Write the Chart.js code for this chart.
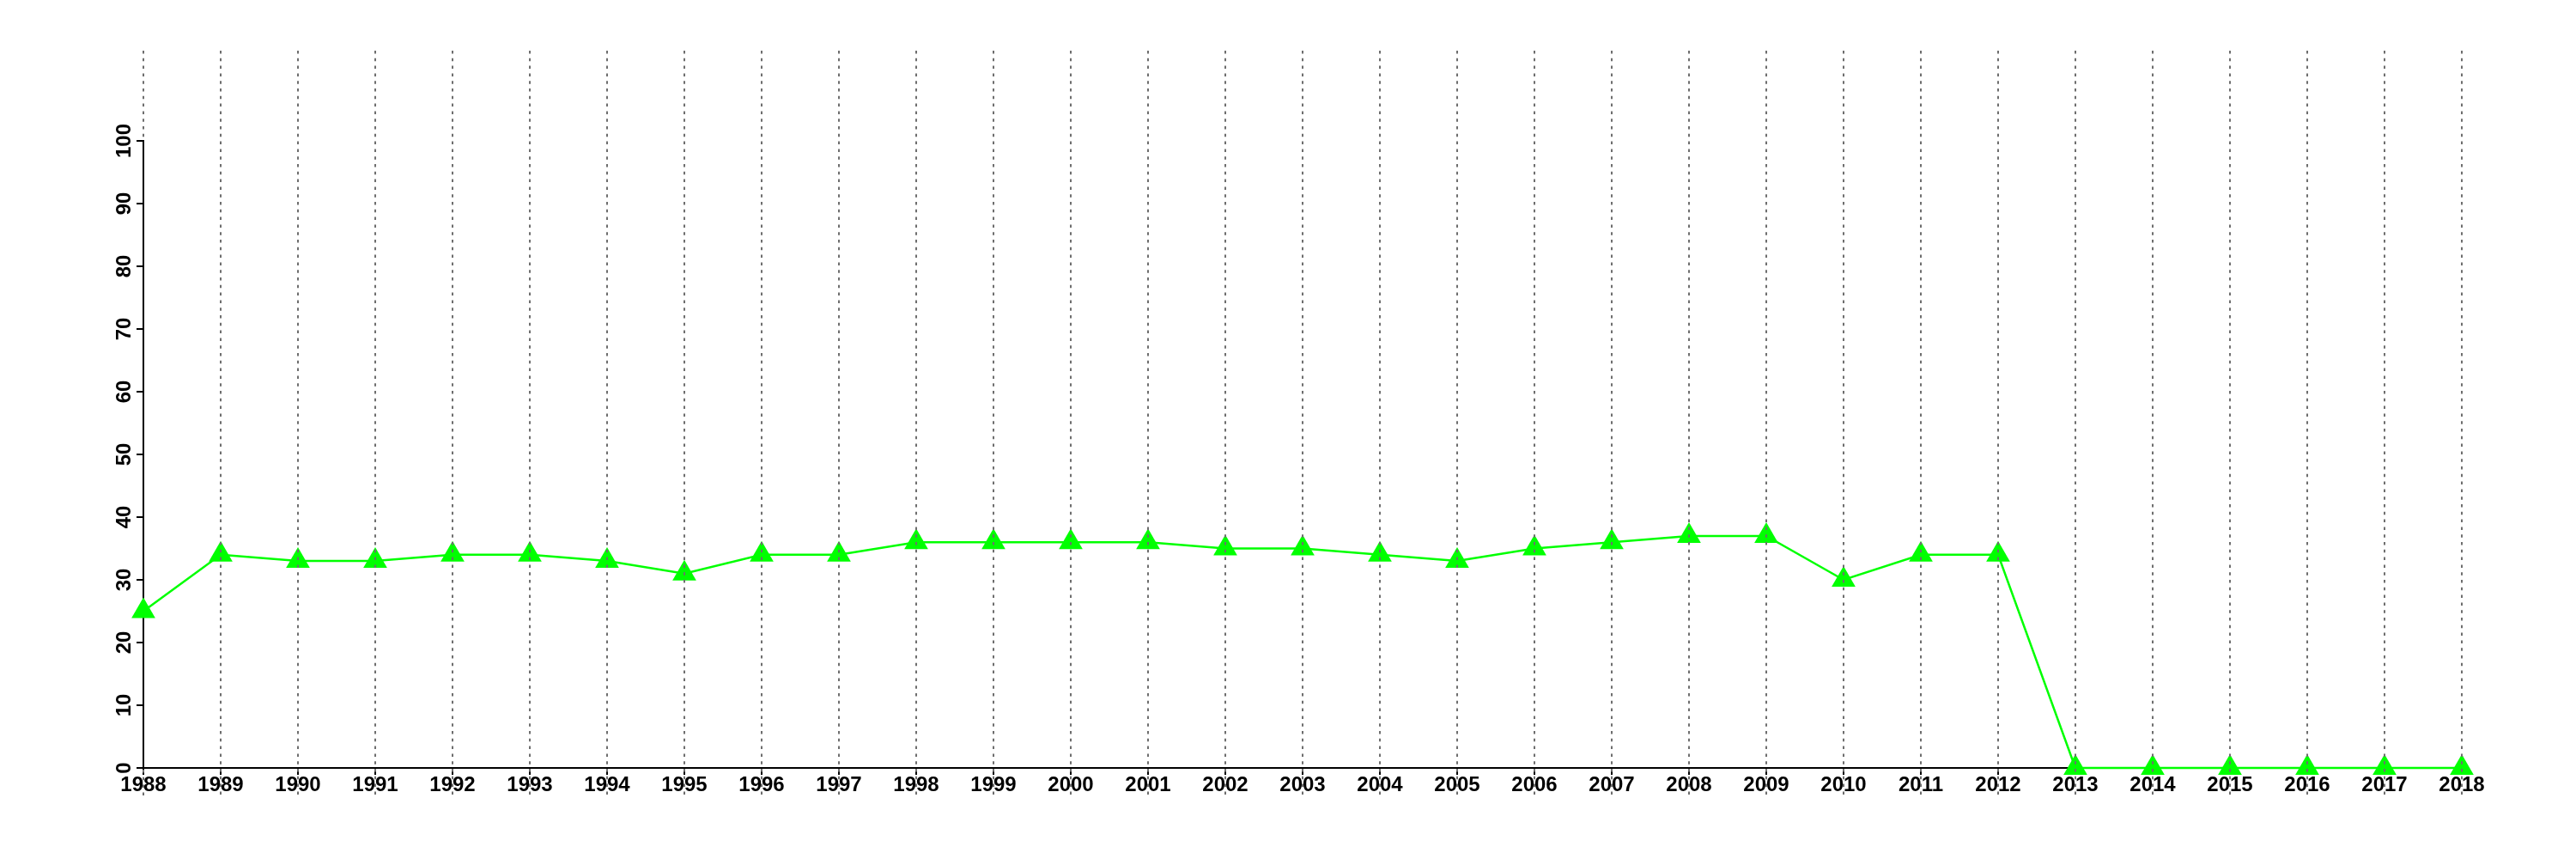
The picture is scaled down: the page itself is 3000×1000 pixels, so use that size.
<!DOCTYPE html>
<html>
<head>
<meta charset="utf-8">
<script src="https://cdn.jsdelivr.net/npm/chart.js@4/dist/chart.umd.min.js"></script>
<style>
  html, body { margin: 0; padding: 0; background: #fff; }
  #wrap { width: 3000px; height: 1000px; }
</style>
</head>
<body>
<div id="wrap"><canvas id="lineChart" width="3000" height="1000"></canvas></div>
<script>
// years on the x axis
const years = ['1988', '1989', '1990', '1991', '1992', '1993', '1994', '1995', '1996', '1997',
  '1998', '1999', '2000', '2001', '2002', '2003', '2004', '2005', '2006', '2007',
  '2008', '2009', '2010', '2011', '2012', '2013', '2014', '2015', '2016', '2017', '2018'];

// series values
const values = [25, 34, 33, 33, 34, 34, 33, 31, 34, 34,
  36, 36, 36, 36, 35, 35, 34, 33, 35, 36,
  37, 37, 30, 34, 34, 0, 0, 0, 0, 0, 0];

// y tick labels
const yTicks = [0, 10, 20, 30, 40, 50, 60, 70, 80, 90, 100];

const labelFont = 'bold 24px "Liberation Sans", Arial, sans-serif';

// dashed vertical guides at each year, drawn over everything
const yearGuides = {
  id: 'yearGuides',
  afterDraw(chart) {
    const ctx = chart.ctx;
    const xs = chart.scales.x;
    const area = chart.chartArea;
    ctx.save();
    ctx.strokeStyle = '#6e6e6e';
    ctx.lineWidth = 2;
    ctx.setLineDash([3.5, 5.3]);
    years.forEach((y, i) => {
      const px = Math.round(xs.getPixelForTick(i));
      ctx.beginPath();
      if (i === 0) {
        // keep the y axis line solid
        ctx.moveTo(px, 59);
        ctx.lineTo(px, area.top);
        ctx.moveTo(px, area.bottom + 2);
        ctx.lineTo(px, 928);
      } else {
        ctx.moveTo(px, 59);
        ctx.lineTo(px, 928);
      }
      ctx.stroke();
    });
    ctx.restore();
  }
};

// rotated y labels (reading bottom to top)
const yLabels = {
  id: 'yLabels',
  afterDraw(chart) {
    const ctx = chart.ctx;
    const ys = chart.scales.y;
    ctx.save();
    ctx.fillStyle = '#000';
    ctx.font = labelFont;
    ctx.textAlign = 'center';
    ctx.textBaseline = 'alphabetic';
    yTicks.forEach(v => {
      const py = ys.getPixelForValue(v);
      ctx.save();
      ctx.translate(ys.right - 15, py);
      ctx.rotate(-Math.PI / 2);
      ctx.fillText(String(v), 0, 0);
      ctx.restore();
    });
    ctx.restore();
  }
};

const ctx = document.getElementById('lineChart').getContext('2d');
const lineChart = new Chart(ctx, {
  type: 'line',
  data: {
    labels: years,
    datasets: [{
      data: values,
      borderColor: '#00ff00',
      backgroundColor: '#00ff00',
      borderWidth: 2.5,
      pointStyle: 'triangle',
      pointRadius: 16,
      pointBorderWidth: 0,
      pointBackgroundColor: '#00ff00',
      tension: 0,
      clip: false
    }]
  },
  options: {
    responsive: false,
    animation: false,
    events: [],
    layout: { padding: { left: 0, right: 133, top: 164, bottom: 0 } },
    plugins: {
      legend: { display: false },
      tooltip: { enabled: false },
      title: { display: false }
    },
    scales: {
      x: {
        type: 'category',
        offset: false,
        z: 1,
        border: { display: true, color: '#000', width: 2 },
        grid: { drawOnChartArea: false, drawTicks: true, tickLength: 8, color: '#000', lineWidth: 2 },
        ticks: {
          color: '#000',
          font: { family: '"Liberation Sans", Arial, sans-serif', size: 24, weight: 'bold' },
          padding: -2,
          maxRotation: 0,
          minRotation: 0,
          autoSkip: false
        },
        afterFit(scale) { scale.height = 106; }
      },
      y: {
        min: 0,
        max: 100,
        z: 1,
        border: { display: true, color: '#000', width: 2 },
        grid: { drawOnChartArea: false, drawTicks: true, tickLength: 8, color: '#000', lineWidth: 2 },
        ticks: { stepSize: 10, display: false },
        afterFit(scale) { scale.width = 167; }
      }
    }
  },
  plugins: [yearGuides, yLabels]
});
</script>
</body>
</html>
